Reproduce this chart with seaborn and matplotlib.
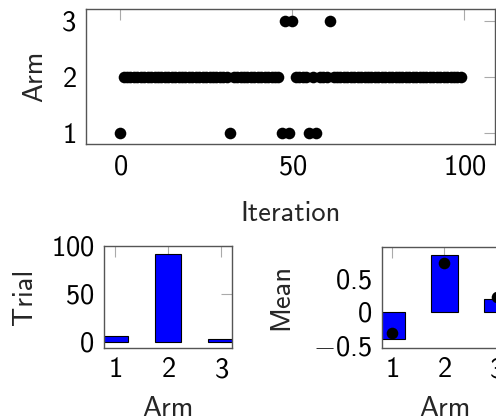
import matplotlib
matplotlib.use("Agg")
import matplotlib.pyplot as plt
from matplotlib.ticker import FuncFormatter
import seaborn as sns
import pandas as pd

# ---- data ----
iterations = list(range(100))
arm_chosen = [1] + [2] * 31 + [1] + [2] * 14 + [1, 3, 1, 3] + [2] * 4 + [1, 2, 1] + [2] * 3 + [3] + [2] * 38
arms = [1, 2, 3]
trials = [6, 91, 3]
empirical_mean = [-0.415, 0.85, 0.19]
true_mean = [-0.315, 0.735, 0.215]

sns.set_theme(style="white")
plt.rcParams["font.family"] = ["cmss10", "DejaVu Sans"]
plt.rcParams["mathtext.fontset"] = "custom"
plt.rcParams["mathtext.rm"] = "cmss10"
plt.rcParams["mathtext.sf"] = "cmss10"
plt.rcParams["mathtext.it"] = "cmss10"
plt.rcParams["mathtext.fallback"] = "cm"
plt.rcParams["axes.formatter.use_mathtext"] = False
plt.rcParams["axes.unicode_minus"] = False

FS = 20.5
SPINE = "#555555"
TICKC = "#aaaaaa"

fmt = FuncFormatter(lambda v, p: r"$\mathrm{%g}$" % v)

fig = plt.figure(figsize=(4.96, 4.20), dpi=100)

def style(ax):
    for s in ax.spines.values():
        s.set_color(SPINE)
        s.set_linewidth(1.0)
        s.set_visible(True)
    ax.tick_params(direction="in", length=8, width=0.8, color=TICKC,
                   top=True, right=True, labelsize=FS, pad=7,
                   labelcolor="black")
    ax.xaxis.set_major_formatter(fmt)
    ax.yaxis.set_major_formatter(fmt)

# top panel
ax1 = fig.add_axes([86 / 496, (420 - 144.3) / 420, 409 / 496, 135 / 420])
df1 = pd.DataFrame({"Iteration": iterations, "Arm": arm_chosen})
sns.scatterplot(data=df1, x="Iteration", y="Arm", ax=ax1, color="black",
                s=70, linewidth=0, zorder=3)
ax1.set_xlim(-9.9, 108.9)
ax1.set_ylim(0.8, 3.2)
ax1.set_xticks([0, 50, 100])
ax1.set_yticks([1, 2, 3])
ax1.set_xlabel("Iteration", fontsize=FS, labelpad=16)
ax1.set_ylabel("Arm", fontsize=FS, labelpad=10)
style(ax1)

# bottom left: trials
ax2 = fig.add_axes([104.3 / 496, (420 - 347.7) / 420, 127.4 / 496, 102 / 420])
df2 = pd.DataFrame({"Arm": arms, "Trial": trials})
sns.barplot(data=df2, x="Arm", y="Trial", ax=ax2, native_scale=True,
            width=0.5, color="#0000ff", saturation=1, edgecolor="black",
            linewidth=0.8, zorder=2)
ax2.set_xlim(0.8, 3.2)
ax2.set_ylim(-6.2, 100)
ax2.set_xticks(arms)
ax2.set_yticks([0, 50, 100])
ax2.set_xlabel("Arm", fontsize=FS, labelpad=10)
ax2.set_ylabel("Trial", fontsize=FS, labelpad=10)
style(ax2)

# bottom right: mean
ax3 = fig.add_axes([381.7 / 496, (420 - 347.7) / 420, 125.5 / 496, 101 / 420])
df3 = pd.DataFrame({"Arm": arms, "Mean": empirical_mean, "True": true_mean})
sns.barplot(data=df3, x="Arm", y="Mean", ax=ax3, native_scale=True,
            width=0.5, color="#0000ff", saturation=1, edgecolor="black",
            linewidth=0.8, zorder=2)
sns.scatterplot(data=df3, x="Arm", y="True", ax=ax3, color="black",
                s=70, linewidth=0, zorder=3)
ax3.set_xlim(0.8, 3.2)
ax3.set_ylim(-0.539, 0.973)
ax3.set_xticks(arms)
ax3.set_yticks([-0.5, 0, 0.5])
ax3.set_xlabel("Arm", fontsize=FS, labelpad=10)
ax3.set_ylabel("Mean", fontsize=FS, labelpad=14)
style(ax3)

fig.savefig("out.png", dpi=100)
